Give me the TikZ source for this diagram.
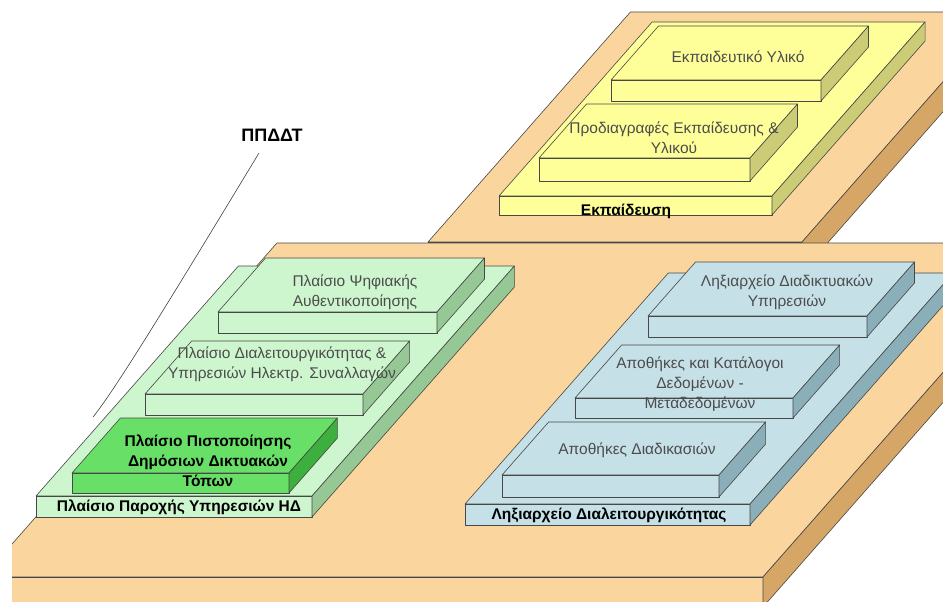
\documentclass[tikz,border=0pt]{standalone}
\usepackage{fontspec}
\setmainfont{Liberation Sans}

% slab: front-left x, front y, width, depth, thickness, top, front, side
\newcommand{\slabbox}[8]{%
  \filldraw[edge,fill=#6] (#1,#2) -- ({#1+#3},#2) -- ({#1+#3+0.88*#4},{#2-#4}) -- ({#1+0.88*#4},{#2-#4}) -- cycle;
  \filldraw[edge,fill=#7] (#1,#2) rectangle ({#1+#3},{#2+#5});
  \filldraw[edge,fill=#8] ({#1+#3},#2) -- ({#1+#3+0.88*#4},{#2-#4}) -- ({#1+#3+0.88*#4},{#2-#4+#5}) -- ({#1+#3},{#2+#5}) -- cycle;
}

\definecolor{tantop}{RGB}{250,214,158}
\definecolor{tanside}{RGB}{214,166,102}
\definecolor{yeltop}{RGB}{255,255,153}
\definecolor{yelside}{RGB}{204,204,119}
\definecolor{grntop}{RGB}{206,246,206}
\definecolor{grnside}{RGB}{150,200,150}
\definecolor{hitop}{RGB}{104,224,104}
\definecolor{hiside}{RGB}{60,175,60}
\definecolor{blutop}{RGB}{198,224,232}
\definecolor{bluside}{RGB}{138,175,185}

\begin{document}
\begin{tikzpicture}[x=1pt,y=-1pt,
    edge/.style={draw=black!72,line width=0.6pt,line join=round},
    lbl/.style={font=\fontsize{15.5}{20}\selectfont,text=black!70,align=center,inner sep=0pt},
    blbl/.style={font=\fontsize{15.5}{20}\selectfont\bfseries,text=black,align=center,inner sep=0pt}]
    \useasboundingbox (0,0) rectangle (943,602);
    \begin{scope}
    \clip (12,0) rectangle (943,602);
    % platforms
    \slabbox{428}{242}{374}{230}{30}{tantop}{tantop}{tanside}
    \slabbox{-17}{577}{780}{334}{30}{tantop}{tantop}{tanside}
    % yellow
    \slabbox{499}{196}{273}{174}{19}{yeltop}{yeltop}{yelside}
    \slabbox{611}{80}{210}{54}{21}{yeltop}{yeltop}{yelside}
    \slabbox{539}{158}{211}{54}{23}{yeltop}{yeltop}{yelside}
    % green
    \slabbox{36}{496}{276}{230}{21}{grntop}{grntop}{grnside}
    \slabbox{218}{312}{219}{54}{21}{grntop}{grntop}{grnside}
    \slabbox{145}{394}{218}{53}{21}{grntop}{grntop}{grnside}
    \slabbox{72}{473}{217}{55}{20}{hitop}{hitop}{hiside}
    % blue
    \slabbox{465}{504}{285}{231}{21}{blutop}{blutop}{bluside}
    \slabbox{648}{316}{219}{54}{21}{blutop}{blutop}{bluside}
    \slabbox{575}{398}{218}{53}{20}{blutop}{blutop}{bluside}
    \slabbox{502}{475}{217}{53}{22}{blutop}{blutop}{bluside}
    \end{scope}

    \node[lbl] (ekpyliko) at (738,57) {Εκπαιδευτικό Υλικό};
    \node[lbl] (prodiagr) at (674,138) {Προδιαγραφές Εκπαίδευσης \&\\Υλικού};
    \node[blbl] (ekpaid) at (626,211) {Εκπαίδευση};

    \node[lbl] (psifiaki) at (355,292) {Πλαίσιο Ψηφιακής\\Αυθεντικοποίησης};
    \node[lbl] (diaglr) at (282,364) {Πλαίσιο Διαλειτουργικότητας \&\\Υπηρεσιών Ηλεκτρ. Συναλλαγών};
    \node[blbl] (pistop) at (208,461) {Πλαίσιο Πιστοποίησης\\Δημόσιων Δικτυακών\\Τόπων};
    \node[blbl] (paroxi) at (179,507) {Πλαίσιο Παροχής Υπηρεσιών ΗΔ};

    \node[lbl] (lixdikt) at (787,292) {Ληξιαρχείο Διαδικτυακών\\Υπηρεσιών};
    \node[lbl] (apokat) at (700,384) {Αποθήκες και Κατάλογοι\\Δεδομένων -\\Μεταδεδομένων};
    \node[lbl] (apodiad) at (637,450) {Αποθήκες Διαδικασιών};
    \node[blbl] (lixdiag) at (609,515) {Ληξιαρχείο Διαλειτουργικότητας};

    \node[font=\fontsize{18}{20}\selectfont\bfseries,inner sep=0pt] (ppddt) at (272,135) {ΠΠΔΔΤ};
    \coordinate (ppddtend) at (93,417);
    \draw[black!75,line width=0.6pt] (259,153) .. controls (170,300) and (115,390) .. (ppddtend);
\end{tikzpicture}
\end{document}
